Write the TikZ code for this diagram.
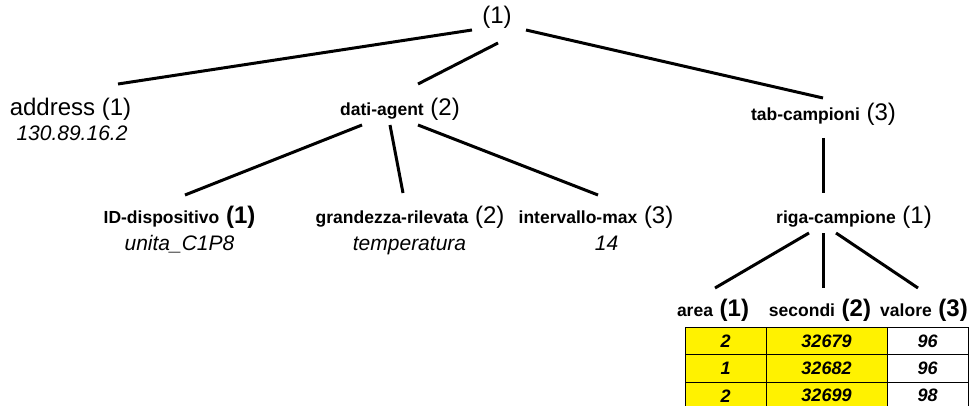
\documentclass[tikz,border=0pt]{standalone}
\usepackage{fontspec}
\setmainfont{Liberation Sans}
% text styles: bold field name, large index, bold large index, italic value
\newcommand{\kname}[1]{{\fontsize{17.5}{20}\selectfont\bfseries #1}}
\newcommand{\knum}[1]{{\fontsize{24}{28}\selectfont #1}}
\newcommand{\kbnum}[1]{{\fontsize{24}{28}\selectfont\bfseries #1}}
\newcommand{\kval}[1]{{\fontsize{21}{24}\selectfont\itshape #1}}
\begin{document}
\begin{tikzpicture}[x=1pt,y=-1pt,
  lbl/.style={anchor=base,inner sep=0pt,font=\fontsize{24}{28}\selectfont},
  edge/.style={line width=3pt},
  cell/.style={draw=black,line width=1pt,minimum height=27.3pt,inner sep=0pt,
    font=\fontsize{18}{20}\selectfont\bfseries\itshape},
  narrow/.style={cell,minimum width=81pt},
  wide/.style={cell,minimum width=121pt},
  hl/.style={fill=yellow}]
\useasboundingbox (0,0) rectangle (974,406);

% tree labels
\node[lbl] (root) at (497,24) {(1)};
\node[lbl] (addr) at (70.5,116) {address (1)};
\node[lbl] (addrv) at (72,141) {\kval{130.89.16.2}};
\node[lbl] (dati) at (400,116) {\kname{dati-agent} \knum{(2)}};
\node[lbl] (tab) at (823.5,121) {\kname{tab-campioni} \knum{(3)}};
\node[lbl] (id) at (179.5,223) {\kname{ID-dispositivo} \kbnum{(1)}};
\node[lbl] (idv) at (179.5,250) {\kval{unita\_C1P8}};
\node[lbl] (gr) at (410,223) {\kname{grandezza-rilevata} \knum{(2)}};
\node[lbl] (grv) at (409.5,250) {\kval{temperatura}};
\node[lbl] (iv) at (596,223) {\kname{intervallo-max} \knum{(3)}};
\node[lbl] (ivv) at (606.5,250) {\kval{14}};
\node[lbl] (riga) at (854,223) {\kname{riga-campione} \knum{(1)}};
\node[lbl] (area) at (713,316) {\kname{area} \kbnum{(1)}};
\node[lbl] (sec) at (820,316) {\kname{secondi} \kbnum{(2)}};
\node[lbl] (val) at (924,316) {\kname{valore} \kbnum{(3)}};

% tree edges
\draw[edge] ([shift={(-25,6)}]root.base) -- ([shift={(47.5,-32)}]addr.base);
\draw[edge] ([shift={(1,19)}]root.base) -- ([shift={(18,-32)}]dati.base);
\draw[edge] ([shift={(29,6)}]root.base) -- ([shift={(-0.5,-23)}]tab.base);
\draw[edge] ([shift={(-38,9)}]dati.base) -- ([shift={(5.5,-28)}]id.base);
\draw[edge] ([shift={(-10,9)}]dati.base) -- ([shift={(-7,-30)}]gr.base);
\draw[edge] ([shift={(18,9)}]dati.base) -- ([shift={(2,-28)}]iv.base);
\draw[edge] ([shift={(-0.5,17)}]tab.base) -- ([shift={(-31,-30)}]riga.base);
\draw[edge] ([shift={(-45,10)}]riga.base) -- ([shift={(2,-28)}]area.base);
\draw[edge] ([shift={(-31,10)}]riga.base) -- ([shift={(3,-28)}]sec.base);
\draw[edge] ([shift={(-18,10)}]riga.base) -- ([shift={(-6,-28)}]val.base);

% sample table
\node[narrow,hl] (c11) at (725.5,341.15) {2};
\node[wide,hl]   (c12) at (826.5,341.15) {32679};
\node[narrow]    (c13) at (927.5,341.15) {96};
\node[narrow,hl] (c21) at (725.5,368.45) {1};
\node[wide,hl]   (c22) at (826.5,368.45) {32682};
\node[narrow]    (c23) at (927.5,368.45) {96};
\node[narrow,hl] (c31) at (725.5,395.75) {2};
\node[wide,hl]   (c32) at (826.5,395.75) {32699};
\node[narrow]    (c33) at (927.5,395.75) {98};
\end{tikzpicture}
\end{document}
